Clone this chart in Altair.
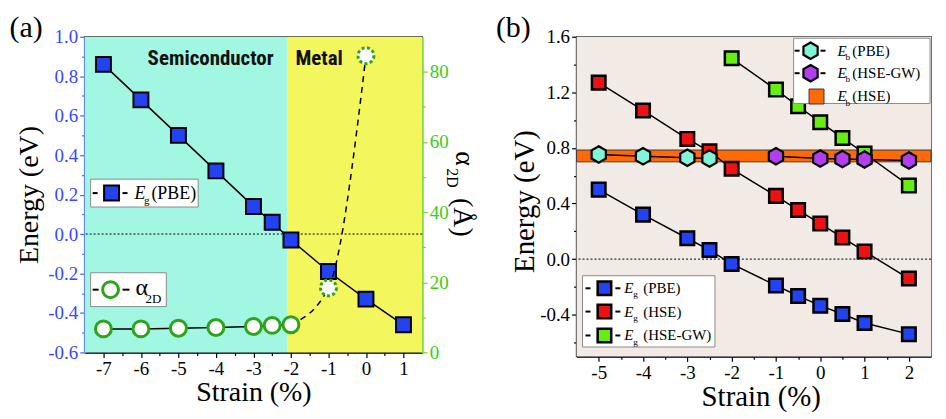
import altair as alt
import pandas as pd

# ---------------- data ----------------
# panel (a)
A_STRAIN = [-7, -6, -5, -4, -3, -2.5, -2, -1, 0, 1]
A_EG_PBE = [0.86, 0.68, 0.50, 0.32, 0.14, 0.06, -0.03, -0.19, -0.33, -0.46]
ALPHA_STRAIN = [-7, -6, -5, -4, -3, -2.5, -2, -1, 0]
ALPHA_2D = [6.7, 6.7, 6.9, 7.1, 7.4, 7.7, 7.9, 18.4, 84.6]
REGION_NAMES = ["Semiconductor", "Metal"]
REGION_START = [-7.5, -2.1]
REGION_END = [-2.1, 1.5]
REGION_COLORS = ["#a2f7e3", "#f3f65d"]

# panel (b)
B_STRAIN = [-5, -4, -3, -2.5, -2, -1, -0.5, 0, 0.5, 1, 2]
B_EG_PBE = [0.50, 0.32, 0.15, 0.065, -0.035, -0.19, -0.265, -0.335, -0.395, -0.46, -0.54]
B_EG_HSE = [1.27, 1.07, 0.865, 0.776, 0.65, 0.455, 0.353, 0.256, 0.155, 0.055, -0.14]
GW_STRAIN = [-2, -1, -0.5, 0, 0.5, 1, 2]
B_EG_HSEGW = [1.445, 1.22, 1.10, 0.985, 0.872, 0.76, 0.53]
EBPBE_STRAIN = [-5, -4, -3, -2.5]
B_EB_PBE = [0.753, 0.74, 0.73, 0.724]
EBGW_STRAIN = [-1, 0, 0.5, 1, 2]
B_EB_HSEGW = [0.74, 0.724, 0.72, 0.717, 0.71]
EB_HSE_LOW = [0.70]
EB_HSE_HIGH = [0.785]
ZERO = [0.0]

# ---------------- style ----------------
SERIF = "Liberation Serif"
W_A, H_A = 339, 317
W_B, H_B = 356, 321
BLUE = "#2143f2"
RED = "#ee1111"
LIME = "#66ee11"
CYAN = "#80f5d8"
PURPLE = "#b23ef0"
ORANGE = "#ff6a06"
GREEN_RING = "#2ea31c"
HEX = "M0,-1L0.866,-0.5L0.866,0.5L0,1L-0.866,0.5L-0.866,-0.5Z"

one = pd.DataFrame({"k": [0]})


def tick_size(test):
    return {"condition": {"test": test, "value": 3}, "value": 5}


def txt(x, y, text, size, italic=False, weight="normal", color="black",
        font=SERIF, angle=0, align="left", baseline="alphabetic"):
    kw = dict(text=text, fontSize=size, font=font, color=color, align=align,
              baseline=baseline, fontWeight=weight)
    if italic:
        kw["fontStyle"] = "italic"
    if angle:
        kw["angle"] = angle
    return alt.Chart(one).mark_text(**kw).encode(x=alt.value(x), y=alt.value(y))


def rule(x1, x2, y, width=2):
    return alt.Chart(one).mark_rule(color="black", strokeWidth=width).encode(
        x=alt.value(x1), x2=alt.value(x2), y=alt.value(y), y2=alt.value(y))


def box(x1, y1, x2, y2):
    return alt.Chart(one).mark_rect(fill="white", stroke="#8a8a8a", strokeWidth=1).encode(
        x=alt.value(x1), x2=alt.value(x2), y=alt.value(y1), y2=alt.value(y2))


def sym(x, y, shape, fill, size, stroke="black", sw=2.0, dash=None):
    kw = dict(shape=shape, filled=True, color=fill, stroke=stroke, strokeWidth=sw,
              size=size, opacity=1)
    if dash:
        kw["strokeDash"] = dash
    return alt.Chart(one).mark_point(**kw).encode(x=alt.value(x), y=alt.value(y))


def e_label(x, y, sub, rest, size, sub_dx, rest_dx):
    return [
        txt(x, y, "E", size, italic=True),
        txt(x + sub_dx, y + size * 0.28, sub, size * 0.62),
        txt(x + rest_dx, y, rest, size),
    ]


def axis(**kw):
    base = dict(grid=False, titleFont=SERIF, titleFontWeight="normal", titleColor="black",
                titleAlign="center", titleBaseline="alphabetic",
                labelFont=SERIF, labelFontSize=19, labelPadding=2,
                labelOverlap=False, labelFlush=False, tickWidth=1.2)
    base.update(kw)
    return alt.Axis(**base)


# ---------------- panel (a) ----------------
AX_A_X = axis(
    values=[-7 + 0.5 * i for i in range(17)],
    labelExpr="abs(datum.value % 1) > 0.01 ? '' : (datum.value < 0 ? '-' : '') + format(abs(datum.value), 'd')",
    tickSize=tick_size("abs(datum.value % 1) > 0.01"),
    title="Strain (%)", titleFontSize=28, titleX=W_A / 2, titleY=48,
    labelColor="black", labelAngle=0,
    domainColor="black", domainWidth=1.5, tickColor="black")
SC_A_X = alt.Scale(domain=[-7.5, 1.5], nice=False, zero=False)

AX_A_Y = axis(
    values=[round(-0.6 + 0.1 * i, 1) for i in range(17)],
    labelExpr="abs(round(datum.value*10)) % 2 == 1 ? '' : (datum.value < 0 ? '-' : '') + format(abs(datum.value), '.1f')",
    tickSize=tick_size("abs(round(datum.value*10)) % 2 == 1"),
    title="Energy (eV)", titleFontSize=28, titleX=-47, titleY=H_A / 2, titleAngle=270,
    labelColor="#3548ff",
    domainColor="#4a5cff", domainWidth=2, tickColor="#4a5cff")
SC_A_Y = alt.Scale(domain=[-0.6, 1.0], nice=False, zero=False)

AX_ALPHA = axis(
    orient="right", values=[10 * i for i in range(9)],
    labelExpr="datum.value % 20 != 0 ? '' : format(datum.value, 'd')",
    tickSize=tick_size("datum.value % 20 != 0"),
    title=None, labelColor="#3ccc12",
    domainColor="#6ad83c", domainWidth=2, tickColor="#6ad83c")
SC_ALPHA = alt.Scale(domain=[0, 90], nice=False, zero=False)


def xa(field):
    return alt.X(field, type="quantitative", scale=SC_A_X, axis=AX_A_X)


def ya(field):
    return alt.Y(field, type="quantitative", scale=SC_A_Y, axis=AX_A_Y)


def yalpha(field):
    return alt.Y(field, type="quantitative", scale=SC_ALPHA, axis=AX_ALPHA)


df_regions = pd.DataFrame({"start": REGION_START, "end": REGION_END, "region": REGION_NAMES})
df_a = pd.DataFrame({"strain": A_STRAIN, "eg": A_EG_PBE})
df_zero_a = pd.DataFrame({"eg": ZERO})
df_alpha = pd.DataFrame({"strain": ALPHA_STRAIN, "alpha": ALPHA_2D})
df_alpha_semi = df_alpha[df_alpha["strain"] <= -2]
df_alpha_metal = df_alpha[df_alpha["strain"] >= -2]
df_alpha_pts_metal = df_alpha[df_alpha["strain"] > -2]

bg_a = alt.Chart(df_regions).mark_rect().encode(
    x=xa("start"), x2=alt.X2("end"), y=alt.value(0), y2=alt.value(H_A),
    color=alt.Color("region:N", scale=alt.Scale(domain=REGION_NAMES, range=REGION_COLORS), legend=None))
zero_a = alt.Chart(df_zero_a).mark_rule(color="black", strokeWidth=1, strokeDash=[2, 2]).encode(y=ya("eg"))
eg_line_a = alt.Chart(df_a).mark_line(color="black", strokeWidth=1.5).encode(x=xa("strain"), y=ya("eg"))
eg_pts_a = alt.Chart(df_a).mark_point(shape="square", filled=True, color=BLUE, stroke="black",
                                      strokeWidth=2, size=225, opacity=1).encode(x=xa("strain"), y=ya("eg"))

SANS_NARROW = "Liberation Sans Narrow, Roboto Condensed, Roboto"
left_layers = [bg_a, zero_a, eg_line_a, eg_pts_a,
               txt(126.5, 28, "Semiconductor", 21, weight="bold", font=SANS_NARROW, align="center", color="#111111"),
               txt(235.5, 28, "Metal", 21, weight="bold", font=SANS_NARROW, align="center", color="#111111"),
               # legend Eg (PBE)
               box(6, 143, 114, 171), rule(8, 13, 157), rule(38, 43, 157),
               sym(27, 157, "square", BLUE, 225),
               *e_label(50, 163, "g", "(PBE)", 18, 9.5, 17),
               # legend alpha_2D
               box(6, 237, 82, 271), rule(8, 14, 254), rule(38, 45, 254),
               sym(26, 254, "circle", "white", 256, stroke=GREEN_RING, sw=3),
               txt(51, 259, "α", 24), txt(61, 267, "2D", 13),
               # right axis title
               txt(W_A + 33.5, 115, "α", 28, angle=90),
               txt(W_A + 24.5, 132, "2D", 16, angle=90),
               txt(W_A + 31.5, 162, "(Å)", 28, angle=90),
               # panel label
               txt(-75.5, 0, "(a)", 30)]
left_a = alt.layer(*left_layers)

alpha_solid = alt.Chart(df_alpha_semi).mark_line(color="black", strokeWidth=1.5).encode(
    x=xa("strain"), y=yalpha("alpha"))
alpha_dash = alt.Chart(df_alpha_metal).mark_line(color="black", strokeWidth=1.5, strokeDash=[6, 5],
                                                 interpolate="monotone").encode(
    x=xa("strain"), y=yalpha("alpha"))
alpha_pts = alt.Chart(df_alpha_semi).mark_point(shape="circle", filled=True, color="white",
                                                stroke=GREEN_RING, strokeWidth=3, size=256,
                                                opacity=1).encode(x=xa("strain"), y=yalpha("alpha"))
alpha_pts_d = alt.Chart(df_alpha_pts_metal).mark_point(shape="circle", filled=True, color="white",
                                                       stroke=GREEN_RING, strokeWidth=3, size=256,
                                                       strokeDash=[3, 2.5], opacity=1).encode(
    x=xa("strain"), y=yalpha("alpha"))
right_a = alt.layer(alpha_solid, alpha_dash, alpha_pts, alpha_pts_d)

panel_a = alt.layer(left_a, right_a).resolve_scale(y="independent").properties(width=W_A, height=H_A)

# ---------------- panel (b) ----------------
AX_B_X = axis(
    values=[-5 + 0.5 * i for i in range(15)],
    labelExpr="abs(datum.value % 1) > 0.01 ? '' : (datum.value < 0 ? '-' : '') + format(abs(datum.value), 'd')",
    tickSize=tick_size("abs(datum.value % 1) > 0.01"),
    title="Strain (%)", titleFontSize=29, titleX=185, titleY=49,
    labelColor="black", labelAngle=0,
    domainColor="black", domainWidth=1.5, tickColor="black")
SC_B_X = alt.Scale(domain=[-5.5, 2.5], nice=False, zero=False)

AX_B_Y = axis(
    values=[round(-0.6 + 0.2 * i, 1) for i in range(12)],
    labelExpr="abs(round(datum.value*10)) % 4 != 0 ? '' : (datum.value < 0 ? '-' : '') + format(abs(datum.value), '.1f')",
    tickSize=tick_size("abs(round(datum.value*10)) % 4 != 0"),
    title="Energy (eV)", titleFontSize=29, titleX=-43, titleY=165, titleAngle=270,
    labelColor="black",
    domainColor="black", domainWidth=1.5, tickColor="black")
SC_B_Y = alt.Scale(domain=[-0.7, 1.6], nice=False, zero=False)


def xb(field="strain"):
    return alt.X(field, type="quantitative", scale=SC_B_X, axis=AX_B_X)


def yb(field="energy"):
    return alt.Y(field, type="quantitative", scale=SC_B_Y, axis=AX_B_Y)


def series_b(xs, ys, fill, shape, size, sw):
    df = pd.DataFrame({"strain": xs, "energy": ys})
    base = alt.Chart(df).encode(x=xb(), y=yb())
    line = base.mark_line(color="black", strokeWidth=1.5)
    pts = base.mark_point(shape=shape, filled=True, color=fill, stroke="black",
                          strokeWidth=sw, size=size, opacity=1)
    return line, pts


bg_b = alt.Chart(one).mark_rect(fill="#f2ebe5").encode(
    x=alt.value(0), x2=alt.value(W_B), y=alt.value(0), y2=alt.value(H_B))
band = alt.Chart(pd.DataFrame({"lo": EB_HSE_LOW, "hi": EB_HSE_HIGH})).mark_rect(
    fill=ORANGE, stroke="#3a3a3a", strokeWidth=1).encode(
    x=alt.value(0), x2=alt.value(W_B), y=yb("lo"), y2=alt.Y2("hi"))
zero_b = alt.Chart(pd.DataFrame({"energy": ZERO})).mark_rule(
    color="black", strokeWidth=1, strokeDash=[2, 2]).encode(y=yb())

l_pbe, p_pbe = series_b(B_STRAIN, B_EG_PBE, BLUE, "square", 185, 2.5)
l_hse, p_hse = series_b(B_STRAIN, B_EG_HSE, RED, "square", 185, 2.5)
l_gw, p_gw = series_b(GW_STRAIN, B_EG_HSEGW, LIME, "square", 185, 2.5)
l_ebp, p_ebp = series_b(EBPBE_STRAIN, B_EB_PBE, CYAN, HEX, 272, 2.2)
l_ebg, p_ebg = series_b(EBGW_STRAIN, B_EB_HSEGW, PURPLE, HEX, 272, 2.2)

legend_b = [box(218, 1.5, 355, 67)]
for yy, col, sub, rest in [(14, CYAN, "b", "(PBE)"), (36.6, PURPLE, "b", "(HSE-GW)")]:
    legend_b += [rule(219, 224, yy), rule(245, 250, yy), sym(235, yy, HEX, col, 272, sw=2.2),
                 *e_label(262, yy + 5, sub, rest, 15, 8, 15)]
legend_b += [sym(241, 60, "square", ORANGE, 225, stroke="#333333", sw=1),
             *e_label(262, 65, "b", "(HSE)", 15, 8, 15)]
legend_b += [box(6, 240, 139, 311.6)]
for yy, col, rest in [(252.6, BLUE, "(PBE)"), (276, RED, "(HSE)"), (300, LIME, "(HSE-GW)")]:
    legend_b += [rule(9, 14, yy), rule(39, 44, yy), sym(28, yy, "square", col, 185, sw=2.5),
                 *e_label(48, yy + 5, "g", rest, 15, 9, 19)]

panel_b = alt.layer(bg_b, band, zero_b, l_pbe, l_hse, l_gw, p_pbe, p_hse, p_gw,
                    l_ebp, l_ebg, p_ebp, p_ebg, *legend_b,
                    txt(-81, 0, "(b)", 30)).properties(width=W_B, height=H_B)

chart = (
    alt.hconcat(panel_a, panel_b, spacing=155, bounds="flush")
    .properties(padding={"left": 0, "top": 3, "right": 5, "bottom": 5}, background="white")
    .configure(font=SERIF)
    .configure_axis(labelFont=SERIF, titleFont=SERIF, titleFontWeight="normal", grid=False)
    .configure_view(stroke="#444444", strokeWidth=1.5)
)

chart.save("out.html", embed_options={"renderer": "svg", "actions": False})
